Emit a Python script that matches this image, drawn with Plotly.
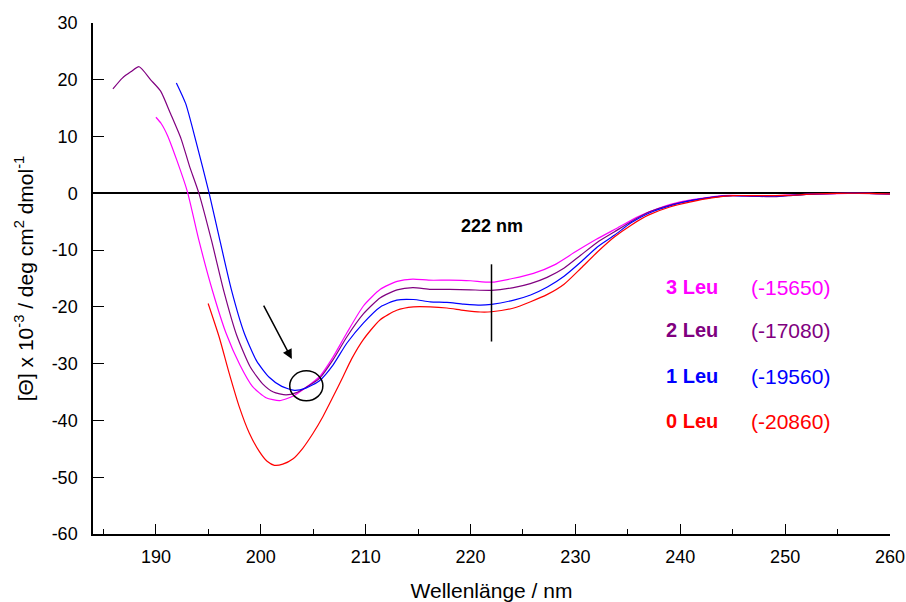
import plotly.graph_objects as go

# CD spectra of the peptide series, mean residue ellipticity x 10^-3
wl_3leu = [190.0, 190.5, 191.1, 192.0, 193.0, 194.1, 195.4, 196.7, 198.0, 199.2, 200.5, 201.8,
           203.1, 204.3, 205.6, 206.9, 208.2, 209.8, 211.4, 213.0, 214.5, 216.0, 218.0, 220.0,
           222.0, 224.0, 226.0, 228.0, 230.0, 232.0, 234.0, 236.0, 238.0, 240.0, 242.0, 244.0,
           246.0, 248.0, 250.0, 252.0, 254.0, 256.0, 258.0, 260.0]
theta_3leu = [13.4, 12.3, 10.2, 5.8, 0.3, -8.3, -17.2, -24.7, -30.2, -34.0, -36.0, -36.5,
              -35.7, -34.2, -32.3, -28.8, -24.6, -19.8, -16.9, -15.5, -15.1, -15.3, -15.3, -15.4,
              -15.65, -15.0, -14.1, -12.6, -10.3, -8.1, -6.1, -4.1, -2.6, -1.5, -0.9, -0.4,
              -0.4, -0.5, -0.3, -0.2, -0.1, 0.0, 0.0, -0.1]

wl_2leu = [185.9, 186.8, 187.6, 188.4, 189.5, 190.45, 191.4, 192.4, 193.2, 194.1, 195.3, 196.5,
           197.7, 199.0, 200.2, 201.2, 202.4, 203.4, 204.3, 205.6, 206.9, 208.2, 209.8, 211.4,
           213.0, 214.5, 216.2, 218.0, 220.0, 222.0, 224.1, 225.7, 227.3, 228.9, 230.5, 232.1,
           233.7, 235.3, 237.0, 239.0, 241.0, 243.0, 245.0, 247.0, 249.0, 251.0, 253.0, 255.0,
           257.0, 260.0]
theta_2leu = [18.4, 20.3, 21.4, 22.3, 20.0, 18.0, 14.0, 9.6, 4.8, 0.0, -8.3, -17.4,
              -25.0, -30.6, -33.6, -35.0, -35.5, -35.1, -34.2, -32.6, -29.3, -25.3, -21.2, -18.4,
              -17.0, -16.6, -16.9, -16.9, -17.0, -17.08, -16.6, -15.9, -14.8, -13.2, -10.9, -8.6,
              -6.8, -5.0, -3.3, -2.1, -1.3, -0.7, -0.4, -0.5, -0.6, -0.3, -0.1, 0.0,
              0.0, -0.1]

wl_1leu = [191.95, 192.84, 193.8, 195.08, 196.1, 197.2, 198.4, 199.6, 200.8, 202.0, 203.2, 204.3,
           205.6, 206.9, 208.2, 209.8, 211.4, 212.96, 214.55, 216.15, 217.75, 219.34,
           220.94, 222.0, 224.13, 225.73, 227.33, 228.92, 230.52, 232.12, 233.71, 235.31, 237.0,
           239.0, 241.0, 243.0, 245.0, 247.0, 249.0, 251.0, 253.0, 255.0, 258.0, 260.0]
theta_1leu = [19.45, 15.8, 9.3, 0.0, -8.3, -17.0, -24.5, -29.5, -32.4, -34.0, -34.7, -34.3,
              -33.0, -30.2, -26.4, -22.8, -20.0, -18.8, -18.7, -19.1, -19.2, -19.5,
              -19.7, -19.56, -18.8, -17.9, -16.5, -14.6, -12.1, -9.4, -7.4, -5.2, -3.5,
              -2.2, -1.3, -0.7, -0.4, -0.5, -0.5, -0.3, -0.1, 0.0, 0.0, -0.1]

wl_0leu = [194.98, 196.03, 196.99, 197.95, 198.9, 199.87, 200.6, 201.3, 202.1, 203.05, 204.0,
           204.97, 205.93, 206.9, 207.84, 208.65, 209.76, 211.36, 212.96, 214.55, 216.15, 217.75,
           219.34, 220.94, 222.0, 224.13, 225.73, 227.33, 228.92, 230.52, 232.12, 233.71, 235.31,
           237.0, 239.0, 241.0, 243.0, 245.0, 247.0, 249.0, 251.0, 253.0, 255.0, 258.0, 260.0]
theta_0leu = [-19.4, -25.3, -31.7, -37.6, -42.2, -45.5, -47.2, -47.9, -47.7, -46.8, -44.9,
              -42.3, -39.3, -35.8, -32.3, -29.2, -25.8, -22.3, -20.6, -20.0, -20.0, -20.2,
              -20.6, -20.9, -20.86, -20.2, -19.1, -17.8, -16.0, -13.2, -10.3, -7.7, -5.6,
              -3.8, -2.4, -1.5, -0.8, -0.4, -0.4, -0.4, -0.3, -0.1, 0.0, 0.0, -0.1]

series_names = ["3 Leu", "2 Leu", "1 Leu", "0 Leu"]
series_colors = ["#FF00FF", "#800080", "#0000FF", "#FF0000"]
series_x = [wl_3leu, wl_2leu, wl_1leu, wl_0leu]
series_y = [theta_3leu, theta_2leu, theta_1leu, theta_0leu]
theta_222 = [-15650, -17080, -19560, -20860]

x_ticks = [190, 200, 210, 220, 230, 240, 250, 260]
y_ticks = [30, 20, 10, 0, -10, -20, -30, -40, -50, -60]

marker_wl = 222
marker_span = [-12.5, -26.1]
isosbestic = (204.34, -33.9)
arrow_from = (200.2, -19.5)
arrow_to = (202.96, -29.2)

FONT = "Liberation Sans, Arial, sans-serif"

fig = go.Figure()
for name, color, xs, ys in zip(series_names, series_colors, series_x, series_y):
    fig.add_trace(go.Scatter(x=xs, y=ys, mode="lines", name=name,
                             line=dict(color=color, width=1.2, shape="spline", smoothing=0.6),
                             showlegend=False))

# label block on the right: name and value at 222 nm
label_y = [-16.5, -24.1, -32.2, -40.1]
for name, color, val, ly in zip(series_names, series_colors, theta_222, label_y):
    fig.add_annotation(x=241.1, y=ly, xref="x", yref="y", text=f"<b>{name}</b>",
                       showarrow=False, font=dict(family=FONT, size=20, color=color))
    fig.add_annotation(x=250.5, y=ly, xref="x", yref="y", text=f"({val})",
                       showarrow=False, font=dict(family=FONT, size=21, color=color))

# 222 nm marker
fig.add_shape(type="line", x0=marker_wl, x1=marker_wl, y0=marker_span[0], y1=marker_span[1],
              xref="x", yref="y", line=dict(color="black", width=1.5))
fig.add_annotation(x=marker_wl, y=-5.8, xref="x", yref="y", text=f"<b>{marker_wl} nm</b>",
                   showarrow=False, font=dict(family=FONT, size=18, color="black"))

# crossing point of the spectra
cx, cy = isosbestic
fig.add_shape(type="circle", x0=cx - 1.58, x1=cx + 1.58, y0=cy - 2.64, y1=cy + 2.64,
              xref="x", yref="y", line=dict(color="black", width=1.5))
fig.add_annotation(x=arrow_to[0], y=arrow_to[1], ax=arrow_from[0], ay=arrow_from[1],
                   xref="x", yref="y", axref="x", ayref="y", text="", showarrow=True,
                   arrowhead=2, arrowsize=1.3, arrowwidth=1.5, arrowcolor="black")

fig.update_xaxes(range=[184, 260], tickvals=x_ticks, ticktext=[str(v) for v in x_ticks],
                 ticks="inside", ticklen=10, tickwidth=1.2, tickcolor="black",
                 minor=dict(dtick=5, tick0=185, ticks="inside", ticklen=5, tickwidth=1, tickcolor="black"),
                 showline=True, linecolor="black", linewidth=1.5, showgrid=False, zeroline=False,
                 automargin=False,
                 tickfont=dict(family=FONT, size=18, color="black"), ticklabelstandoff=6,
                 title=dict(text="Wellenlänge / nm", font=dict(family=FONT, size=21, color="black"),
                            standoff=22))
fig.update_yaxes(range=[-60, 30], tickvals=y_ticks, ticktext=[str(v) for v in y_ticks],
                 ticks="inside", ticklen=11, tickwidth=1.2,
                 tickcolor="black", showline=True, linecolor="black", linewidth=1.5,
                 showgrid=False, zeroline=True, zerolinecolor="black", zerolinewidth=1.5,
                 automargin=False,
                 tickfont=dict(family=FONT, size=18, color="black"), ticklabelstandoff=10,
                 title=dict(text="[Θ] x 10<sup>-3</sup> / deg cm<sup>2</sup> dmol<sup>-1</sup>",
                            font=dict(family=FONT, size=21, color="black"), standoff=12))

fig.update_layout(width=906, height=602, margin=dict(l=93, r=16, t=23, b=68),
                  plot_bgcolor="white", paper_bgcolor="white")

fig.write_html("out.html")
